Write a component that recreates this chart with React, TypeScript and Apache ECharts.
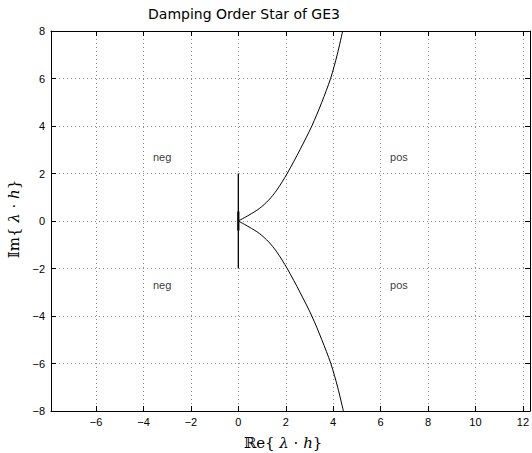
import React, { useEffect, useRef } from "react";
import * as echarts from "echarts";

const titleText = "Damping Order Star of GE3";
const xRange = [-7.9, 12.3];
const yRange = [-8, 8];

// upper branch of the order-star boundary (Re, Im)
const upperRe = [0, 0.45, 0.88, 1.28, 1.62, 2.06, 2.6, 3.1, 3.52, 3.89, 4.17, 4.4];
const upperIm = [0, 0.25, 0.52, 0.88, 1.3, 2.0, 3.0, 4.0, 5.0, 6.0, 7.0, 8.0];
// lower branch
const lowerRe = [0, 0.45, 0.88, 1.28, 1.62, 2.06, 2.6, 3.1, 3.52, 3.9, 4.19, 4.43];
const lowerIm = [0, -0.25, -0.52, -0.88, -1.3, -2.0, -3.0, -4.0, -5.0, -6.0, -7.0, -8.0];
// segment on the imaginary axis
const axisSegRe = [0, 0];
const axisSegIm = [-2, 2];
const coreSegIm = [-0.4, 0.4];

// region labels
const regionText = ["neg", "neg", "pos", "pos"];
const regionRe = [-3.6, -3.6, 6.4, 6.4];
const regionIm = [2.7, -2.7, 2.7, -2.7];

const fmt = (v: number) => String(v).replace("-", "\u2212");

export default function App() {
  const ref = useRef<HTMLDivElement>(null);
  useEffect(() => {
    if (!ref.current) return;
    const chart = echarts.init(ref.current, undefined, { renderer: "svg" });
    const zip = (a: number[], b: number[]) => a.map((v, i) => [v, b[i]]);
    const tickFont = { color: "#000", fontSize: 11, fontFamily: "Liberation Sans, Arial, sans-serif" };
    const grid = { show: true, lineStyle: { color: "#8a8a8a", type: [1, 3] as any, width: 1 } };
    const line = { show: true, onZero: false, lineStyle: { color: "#000", width: 1 } };
    const tick = { show: true, inside: true, length: 5, lineStyle: { color: "#000", width: 1 } };
    chart.setOption({
      animation: false,
      color: ["#000"],
      grid: { left: 51, top: 31, right: 1, bottom: 42 },
      xAxis: [
        {
          type: "value", min: xRange[0], max: xRange[1], splitNumber: 10, position: "bottom",
          axisLine: line, axisTick: tick, splitLine: grid,
          axisLabel: { ...tickFont, margin: 5, showMinLabel: false, showMaxLabel: false, formatter: fmt },
        },
        {
          type: "value", min: xRange[0], max: xRange[1], splitNumber: 10, position: "top",
          axisLine: line, axisTick: tick, splitLine: { show: false }, axisLabel: { show: false },
        },
      ],
      yAxis: [
        {
          type: "value", min: yRange[0], max: yRange[1], interval: 2, position: "left",
          axisLine: line, axisTick: tick, splitLine: grid,
          axisLabel: { ...tickFont, margin: 6, formatter: fmt },
        },
        {
          type: "value", min: yRange[0], max: yRange[1], interval: 2, position: "right",
          axisLine: line, axisTick: tick, splitLine: { show: false }, axisLabel: { show: false },
        },
      ],
      series: [
        {
          type: "line", data: zip(upperRe, upperIm), showSymbol: false, smooth: 0.3,
          lineStyle: { color: "#000", width: 1 },
        },
        {
          type: "line", data: zip(lowerRe, lowerIm), showSymbol: false, smooth: 0.3,
          lineStyle: { color: "#000", width: 1 },
        },
        {
          type: "line", data: zip(axisSegRe, axisSegIm), showSymbol: false,
          lineStyle: { color: "#000", width: 1.3 },
        },
        {
          type: "line", data: zip(axisSegRe, coreSegIm), showSymbol: false,
          lineStyle: { color: "#000", width: 2.2 },
        },
        {
          type: "scatter", symbolSize: 0, itemStyle: { color: "#000" },
          data: regionRe.map((v, i) => ({ value: [v, regionIm[i]], name: regionText[i] })),
          label: {
            show: true, position: "right", distance: 0, formatter: (p: any) => p.name,
            color: "#000", textBorderWidth: 0, fontSize: 11,
            fontFamily: "Liberation Sans, Arial, sans-serif",
          },
        },
      ],
      graphic: [
        {
          type: "text", x: 244, y: 14,
          style: {
            text: titleText, fill: "#000", font: "14px 'DejaVu Sans', sans-serif",
            align: "center", verticalAlign: "middle",
          },
        },
        {
          type: "text", x: 283, y: 443,
          style: {
            text: "\u211De{ {i|\u03BB} \u00B7 {i|h}}", fill: "#000",
            font: "15px 'DejaVu Serif', serif", align: "center", verticalAlign: "middle",
            rich: { i: { fontStyle: "italic", fontSize: 15, fontFamily: "DejaVu Serif" } },
          },
        },
        {
          type: "text", x: 14, y: 219, rotation: Math.PI / 2,
          style: {
            text: "\uD835\uDD40m{ {i|\u03BB} \u00B7 {i|h}}", fill: "#000",
            font: "15px 'DejaVu Serif', serif", align: "center", verticalAlign: "middle",
            rich: { i: { fontStyle: "italic", fontSize: 15, fontFamily: "DejaVu Serif" } },
          },
        },
      ],
    });
    return () => chart.dispose();
  }, []);
  return (
    <div
      ref={ref}
      style={{ position: "fixed", left: 0, top: 0, width: 532, height: 453, background: "#fff" }}
    />
  );
}
